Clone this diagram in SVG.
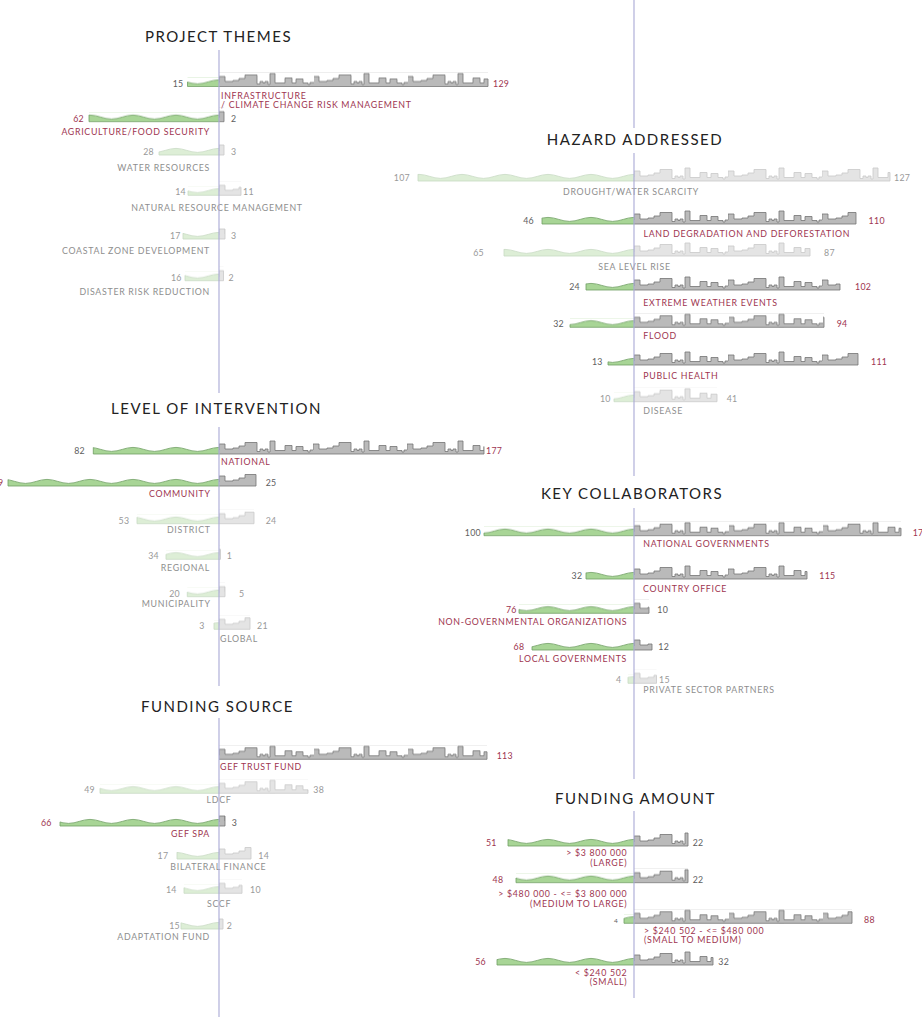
<svg xmlns="http://www.w3.org/2000/svg" width="922" height="1024" viewBox="0 0 922 1024">
<style>
text{font-family:Lato,"Open Sans","Liberation Sans",sans-serif}
.t{font-size:15px;letter-spacing:1.5px;fill:#222;text-anchor:middle}
.lb,.lg{font-size:8.8px;letter-spacing:.7px}
.lb{fill:#9e3550}
.lg{fill:#8e8e8e}
.n,.nr,.ng{font-size:8.8px;letter-spacing:.3px}
.n{fill:#5e5e5e}
.nr{fill:#9e3550}
.ng{fill:#999}
.e{text-anchor:end}
.m{text-anchor:middle}
.wv{fill:none;stroke:#6f9e62;stroke-width:.8}
.sk{fill:none;stroke:#737373;stroke-width:.8}
.fd{opacity:.38}
.ax{stroke:#a9a9d6;stroke-width:1.1;fill:none}
</style>
<defs>
<pattern id="sky" patternUnits="userSpaceOnUse" x="0" y="-14" width="94" height="14">
<g transform="translate(0,14)">
<path fill="#bababa" d="M0,0 V-10 H6 V-5 H14 V-6 H20 V-8 H26 V-11.5 H38 V-2.5 H41 V-5 H44 V-3.5 H46 V-5 H49 V-2 H51 V-13 H56 V-3.5 H66 V-8.5 H73 V-3.5 H77 V-7.5 H84 V-3.5 H89 V-2 H91 V-4 H94 V0 Z"/>
<path class="sk" d="M0,-4 V-10 H6 V-5 H14 V-6 H20 V-8 H26 V-11.5 H38 V-2.5 H41 V-5 H44 V-3.5 H46 V-5 H49 V-2 H51 V-13 H56 V-3.5 H66 V-8.5 H73 V-3.5 H77 V-7.5 H84 V-3.5 H89 V-2 H91 V-4 H94"/>
</g>
</pattern>
<pattern id="wave" patternUnits="userSpaceOnUse" x="0" y="-9" width="43" height="9">
<g transform="translate(0,9)">
<path fill="#a8d596" d="M0,0 V-6.6 C7.7,-6.6 13.8,-2.6 21.5,-2.6 C29.2,-2.6 35.3,-6.6 43,-6.6 V0 Z"/>
<path class="wv" d="M-1,-6.6 H0 C7.7,-6.6 13.8,-2.6 21.5,-2.6 C29.2,-2.6 35.3,-6.6 43,-6.6 H44"/>
</g>
</pattern>
</defs>

<g id="titles">
<text class="t" x="218.5" y="42">PROJECT THEMES</text>
<text class="t" x="635" y="145">HAZARD ADDRESSED</text>
<text class="t" x="216.5" y="413.5">LEVEL OF INTERVENTION</text>
<text class="t" x="632" y="498.5">KEY COLLABORATORS</text>
<text class="t" x="217.5" y="711.5">FUNDING SOURCE</text>
<text class="t" x="635.5" y="803.5">FUNDING AMOUNT</text>
</g>

<!-- PROJECT THEMES -->
<g id="pt-infrastructure" transform="translate(219,86.5)">
<g><rect x="-31.5" y="-9" width="31.5" height="9" fill="url(#wave)"/><path class="wv" d="M-31.5,-4.6 V0 H0"/>
<rect x="0" y="-14" width="269" height="14" fill="url(#sky)"/><path class="sk" d="M0,0 H269 V-7.5"/></g>
<text class="n e" x="-35.5">15</text><text class="nr" x="274">129</text>
<text class="lb" x="2" y="12.3">INFRASTRUCTURE</text>
<text class="lb" x="2" y="21.8">/ CLIMATE CHANGE RISK MANAGEMENT</text>
</g>
<g id="pt-agriculture" transform="translate(219,121.7)">
<g><rect x="-130" y="-9" width="130" height="9" fill="url(#wave)"/><path class="wv" d="M-130,-6.8 V0 H0"/>
<rect x="0" y="-14" width="5" height="14" fill="url(#sky)"/><path class="sk" d="M0,0 H5 V-10"/></g>
<text class="nr e" x="-135">62</text><text class="n" x="12">2</text>
<text class="lb e" x="-9" y="13.3">AGRICULTURE/FOOD SECURITY</text>
</g>
<g id="pt-water" transform="translate(219,155)">
<g class="fd"><rect x="-60" y="-9" width="60" height="9" fill="url(#wave)"/><path class="wv" d="M-60,-3.2 V0 H0"/>
<rect x="0" y="-14" width="5" height="14" fill="url(#sky)"/><path class="sk" d="M0,0 H5 V-10"/></g>
<text class="ng e" x="-65">28</text><text class="ng" x="12">3</text>
<text class="lg e" x="-9" y="16.3">WATER RESOURCES</text>
</g>
<g id="pt-natural" transform="translate(219,195.3)">
<g class="fd"><rect x="-31" y="-9" width="31" height="9" fill="url(#wave)"/><path class="wv" d="M-31,-4.4 V0 H0"/>
<rect x="0" y="-14" width="22" height="14" fill="url(#sky)"/><path class="sk" d="M0,0 H22 V-8"/></g>
<text class="ng e" x="-33">14</text><text class="ng" x="24">11</text>
<text class="lg m" x="-2" y="15.7">NATURAL RESOURCE MANAGEMENT</text>
</g>
<g id="pt-coastal" transform="translate(219,239)">
<g class="fd"><rect x="-36" y="-9" width="36" height="9" fill="url(#wave)"/><path class="wv" d="M-36,-5.8 V0 H0"/>
<rect x="0" y="-14" width="6" height="14" fill="url(#sky)"/><path class="sk" d="M0,0 H6 V-10"/></g>
<text class="ng e" x="-38.3">17</text><text class="ng" x="12">3</text>
<text class="lg e" x="-9" y="15">COASTAL ZONE DEVELOPMENT</text>
</g>
<g id="pt-disaster" transform="translate(219,280.7)">
<g class="fd"><rect x="-34" y="-9" width="34" height="9" fill="url(#wave)"/><path class="wv" d="M-34,-5.3 V0 H0"/>
<rect x="0" y="-14" width="4.5" height="14" fill="url(#sky)"/><path class="sk" d="M0,0 H4.5 V-10"/></g>
<text class="ng e" x="-37.3">16</text><text class="ng" x="9.5">2</text>
<text class="lg e" x="-9" y="14.8">DISASTER RISK REDUCTION</text>
</g>

<!-- HAZARD ADDRESSED -->
<g id="hz-drought" transform="translate(634,181)">
<g class="fd"><rect x="-216" y="-9" width="216" height="9" fill="url(#wave)"/><path class="wv" d="M-216,-6.8 V0 H0"/>
<rect x="0" y="-14" width="256" height="14" fill="url(#sky)"/><path class="sk" d="M0,0 H256 V-8.5"/></g>
<text class="ng e" x="-224">107</text><text class="ng" x="260">127</text>
<text class="lg m" x="-3" y="14">DROUGHT/WATER SCARCITY</text>
</g>
<g id="hz-land" transform="translate(634,224)">
<g><rect x="-92" y="-9" width="92" height="9" fill="url(#wave)"/><path class="wv" d="M-92,-6.1 V0 H0"/>
<rect x="0" y="-14" width="222" height="14" fill="url(#sky)"/><path class="sk" d="M0,0 H222 V-11.5"/></g>
<text class="n e" x="-100">46</text><text class="nr" x="234.6">110</text>
<text class="lb" x="9.5" y="13">LAND DEGRADATION AND DEFORESTATION</text>
</g>
<g id="hz-sea" transform="translate(634,256)">
<g class="fd"><rect x="-130" y="-9" width="130" height="9" fill="url(#wave)"/><path class="wv" d="M-130,-6.8 V0 H0"/>
<rect x="0" y="-14" width="176" height="14" fill="url(#sky)"/><path class="sk" d="M0,0 H176 V-7.5"/></g>
<text class="ng e" x="-150">65</text><text class="ng" x="190">87</text>
<text class="lg m" x="0.5" y="13.5">SEA LEVEL RISE</text>
</g>
<g id="hz-extreme" transform="translate(634,290)">
<g><rect x="-48" y="-9" width="48" height="9" fill="url(#wave)"/><path class="wv" d="M-48,-6.3 V0 H0"/>
<rect x="0" y="-14" width="206" height="14" fill="url(#sky)"/><path class="sk" d="M0,0 H206 V-6"/></g>
<text class="n e" x="-54">24</text><text class="nr" x="221">102</text>
<text class="lb" x="9.3" y="16">EXTREME WEATHER EVENTS</text>
</g>
<g id="hz-flood" transform="translate(634,327.3)">
<g><rect x="-64" y="-9" width="64" height="9" fill="url(#wave)"/><path class="wv" d="M-64,-2.8 V0 H0"/>
<rect x="0" y="-14" width="190" height="14" fill="url(#sky)"/><path class="sk" d="M0,0 H190 V-10"/></g>
<text class="n e" x="-70">32</text><text class="nr" x="202.7">94</text>
<text class="lb" x="9.3" y="12.2">FLOOD</text>
</g>
<g id="hz-health" transform="translate(634,365)">
<g><rect x="-26" y="-9" width="26" height="9" fill="url(#wave)"/><path class="wv" d="M-26,-3.2 V0 H0"/>
<rect x="0" y="-14" width="224" height="14" fill="url(#sky)"/><path class="sk" d="M0,0 H224 V-11.5"/></g>
<text class="n e" x="-31.3">13</text><text class="nr" x="237">111</text>
<text class="lb" x="9.3" y="13.5">PUBLIC HEALTH</text>
</g>
<g id="hz-disease" transform="translate(634,401.7)">
<g class="fd"><rect x="-20" y="-9" width="20" height="9" fill="url(#wave)"/><path class="wv" d="M-20,-2.9 V0 H0"/>
<rect x="0" y="-14" width="83" height="14" fill="url(#sky)"/><path class="sk" d="M0,0 H83 V-7.5"/></g>
<text class="ng e" x="-23.3">10</text><text class="ng" x="92.7">41</text>
<text class="lg" x="9.3" y="12.8">DISEASE</text>
</g>

<!-- LEVEL OF INTERVENTION -->
<g id="li-national" transform="translate(219,454)">
<g><rect x="-125.7" y="-9" width="125.7" height="9" fill="url(#wave)"/><path class="wv" d="M-125.7,-6.6 V0 H0"/>
<rect x="0" y="-14" width="265" height="14" fill="url(#sky)"/><path class="sk" d="M0,0 H265 V-7.5"/></g>
<text class="n e" x="-134">82</text><text class="nr" x="267">177</text>
<text class="lb" x="2" y="10.5">NATIONAL</text>
</g>
<g id="li-community" transform="translate(219,486)">
<g><rect x="-211" y="-9" width="211" height="9" fill="url(#wave)"/><path class="wv" d="M-211,-6.5 V0 H0"/>
<rect x="0" y="-14" width="37" height="14" fill="url(#sky)"/><path class="sk" d="M0,0 H37 V-11.5"/></g>
<text class="nr e" x="-215.5">9</text><text class="n" x="46.7">25</text>
<text class="lb e" x="-8.3" y="11">COMMUNITY</text>
</g>
<g id="li-district" transform="translate(219,523.7)">
<g class="fd"><rect x="-82" y="-9" width="82" height="9" fill="url(#wave)"/><path class="wv" d="M-82,-6.5 V0 H0"/>
<rect x="0" y="-14" width="35" height="14" fill="url(#sky)"/><path class="sk" d="M0,0 H35 V-11.5"/></g>
<text class="ng e" x="-89.7">53</text><text class="ng" x="46.7">24</text>
<text class="lg e" x="-8.3" y="9.5">DISTRICT</text>
</g>
<g id="li-regional" transform="translate(219,559.3)">
<g class="fd"><rect x="-53" y="-9" width="53" height="9" fill="url(#wave)"/><path class="wv" d="M-53,-5 V0 H0"/>
<rect x="0" y="-14" width="1.5" height="14" fill="url(#sky)"/><path class="sk" d="M0,0 H1.5 V-10"/></g>
<text class="ng e" x="-60">34</text><text class="ng" x="7.7">1</text>
<text class="lg e" x="-9" y="11.7">REGIONAL</text>
</g>
<g id="li-municipality" transform="translate(219,596.7)">
<g class="fd"><rect x="-31.7" y="-9" width="31.7" height="9" fill="url(#wave)"/><path class="wv" d="M-31.7,-4.6 V0 H0"/>
<rect x="0" y="-14" width="6" height="14" fill="url(#sky)"/><path class="sk" d="M0,0 H6 V-10"/></g>
<text class="ng e" x="-39">20</text><text class="ng" x="20">5</text>
<text class="lg e" x="-8.3" y="10.8">MUNICIPALITY</text>
</g>
<g id="li-global" transform="translate(219,629.3)">
<g class="fd"><rect x="-5" y="-9" width="5" height="9" fill="url(#wave)"/><path class="wv" d="M-5,-6.3 V0 H0"/>
<rect x="0" y="-14" width="31" height="14" fill="url(#sky)"/><path class="sk" d="M0,0 H31 V-11.5"/></g>
<text class="ng e" x="-14.3">3</text><text class="ng" x="38">21</text>
<text class="lg" x="1" y="12.7">GLOBAL</text>
</g>

<!-- KEY COLLABORATORS -->
<g id="kc-national" transform="translate(634,535.7)">
<g><rect x="-150" y="-9" width="150" height="9" fill="url(#wave)"/><path class="wv" d="M-150,-2.8 V0 H0"/>
<rect x="0" y="-14" width="267" height="14" fill="url(#sky)"/><path class="sk" d="M0,0 H267 V-7.5"/></g>
<text class="n e" x="-153">100</text><text class="nr" x="278.7">17</text>
<text class="lb" x="9.3" y="11.3">NATIONAL GOVERNMENTS</text>
</g>
<g id="kc-country" transform="translate(634,579)">
<g><rect x="-48" y="-9" width="48" height="9" fill="url(#wave)"/><path class="wv" d="M-48,-6.3 V0 H0"/>
<rect x="0" y="-14" width="173" height="14" fill="url(#sky)"/><path class="sk" d="M0,0 H173 V-7.5"/></g>
<text class="n e" x="-51.7">32</text><text class="nr" x="185.3">115</text>
<text class="lb" x="9" y="13">COUNTRY OFFICE</text>
</g>
<g id="kc-ngo" transform="translate(634,613.3)">
<g><rect x="-115" y="-9" width="115" height="9" fill="url(#wave)"/><path class="wv" d="M-115,-3.9 V0 H0"/>
<rect x="0" y="-14" width="15" height="14" fill="url(#sky)"/><path class="sk" d="M0,0 H15 V-6"/></g>
<text class="nr e" x="-117.3">76</text><text class="n" x="23.3">10</text>
<text class="lb e" x="-6.7" y="11.7">NON-GOVERNMENTAL ORGANIZATIONS</text>
</g>
<g id="kc-local" transform="translate(634,650)">
<g><rect x="-102" y="-9" width="102" height="9" fill="url(#wave)"/><path class="wv" d="M-102,-3.4 V0 H0"/>
<rect x="0" y="-14" width="18" height="14" fill="url(#sky)"/><path class="sk" d="M0,0 H18 V-6"/></g>
<text class="nr e" x="-109.7">68</text><text class="n" x="24.3">12</text>
<text class="lb e" x="-7" y="12">LOCAL GOVERNMENTS</text>
</g>
<g id="kc-private" transform="translate(634,683.3)">
<g class="fd"><rect x="-6" y="-9" width="6" height="9" fill="url(#wave)"/><path class="wv" d="M-6,-6.1 V0 H0"/>
<rect x="0" y="-14" width="22.5" height="14" fill="url(#sky)"/><path class="sk" d="M0,0 H22.5 V-8"/></g>
<text class="ng e" x="-12.7">4</text><text class="ng" x="25">15</text>
<text class="lg" x="9.3" y="10.2">PRIVATE SECTOR PARTNERS</text>
</g>

<!-- FUNDING SOURCE -->
<g id="fs-gef-trust" transform="translate(219,759.3)">
<g><rect x="0" y="-14" width="268" height="14" fill="url(#sky)"/><path class="sk" d="M0,0 H268 V-7.5"/></g>
<text class="nr" x="277.7">113</text>
<text class="lb" x="1" y="11.2">GEF TRUST FUND</text>
</g>
<g id="fs-ldcf" transform="translate(219,793.3)">
<g class="fd"><rect x="-119" y="-9" width="119" height="9" fill="url(#wave)"/><path class="wv" d="M-119,-5 V0 H0"/>
<rect x="0" y="-14" width="89" height="14" fill="url(#sky)"/><path class="sk" d="M0,0 H89 V-3.5"/></g>
<text class="ng e" x="-124">49</text><text class="ng" x="94.3">38</text>
<text class="lg m" x="0" y="10.2">LDCF</text>
</g>
<g id="fs-gef-spa" transform="translate(219,826)">
<g><rect x="-159" y="-9" width="159" height="9" fill="url(#wave)"/><path class="wv" d="M-159,-4.1 V0 H0"/>
<rect x="0" y="-14" width="6" height="14" fill="url(#sky)"/><path class="sk" d="M0,0 H6 V-10"/></g>
<text class="nr e" x="-167.3">66</text><text class="n" x="12.7">3</text>
<text class="lb e" x="-9" y="11">GEF SPA</text>
</g>
<g id="fs-bilateral" transform="translate(219,859)">
<g class="fd"><rect x="-42" y="-9" width="42" height="9" fill="url(#wave)"/><path class="wv" d="M-42,-6.8 V0 H0"/>
<rect x="0" y="-14" width="32" height="14" fill="url(#sky)"/><path class="sk" d="M0,0 H32 V-11.5"/></g>
<text class="ng e" x="-50.7">17</text><text class="ng" x="39.3">14</text>
<text class="lg m" x="-0.7" y="11">BILATERAL FINANCE</text>
</g>
<g id="fs-sccf" transform="translate(219,893.3)">
<g class="fd"><rect x="-35" y="-9" width="35" height="9" fill="url(#wave)"/><path class="wv" d="M-35,-5.6 V0 H0"/>
<rect x="0" y="-14" width="23" height="14" fill="url(#sky)"/><path class="sk" d="M0,0 H23 V-8"/></g>
<text class="ng e" x="-42.3">14</text><text class="ng" x="31">10</text>
<text class="lg m" x="0" y="13.7">SCCF</text>
</g>
<g id="fs-adaptation" transform="translate(219,929)">
<g class="fd"><rect x="-38" y="-9" width="38" height="9" fill="url(#wave)"/><path class="wv" d="M-38,-6.3 V0 H0"/>
<rect x="0" y="-14" width="4" height="14" fill="url(#sky)"/><path class="sk" d="M0,0 H4 V-10"/></g>
<text class="ng e" x="-39">15</text><text class="ng" x="7.7">2</text>
<text class="lg e" x="-9" y="11">ADAPTATION FUND</text>
</g>

<!-- FUNDING AMOUNT -->
<g id="fa-large" transform="translate(634,846)">
<g><rect x="-126" y="-9" width="126" height="9" fill="url(#wave)"/><path class="wv" d="M-126,-6.6 V0 H0"/>
<rect x="0" y="-14" width="54" height="14" fill="url(#sky)"/><path class="sk" d="M0,0 H54 V-13"/></g>
<text class="nr e" x="-137.3">51</text><text class="n" x="58.7">22</text>
<text class="lb e" x="-6.7" y="10">&gt; $3 800 000</text>
<text class="lb e" x="-6.7" y="20">(LARGE)</text>
</g>
<g id="fa-medium-large" transform="translate(634,882.7)">
<g><rect x="-118" y="-9" width="118" height="9" fill="url(#wave)"/><path class="wv" d="M-118,-4.7 V0 H0"/>
<rect x="0" y="-14" width="54" height="14" fill="url(#sky)"/><path class="sk" d="M0,0 H54 V-13"/></g>
<text class="nr e" x="-130.7">48</text><text class="n" x="58.7">22</text>
<text class="lb e" x="-6.7" y="14.3">&gt; $480 000 - &lt;= $3 800 000</text>
<text class="lb e" x="-6.7" y="24.8">(MEDIUM TO LARGE)</text>
</g>
<g id="fa-small-medium" transform="translate(634,923.3)">
<g><rect x="-10" y="-9" width="10" height="9" fill="url(#wave)"/><path class="wv" d="M-10,-5 V0 H0"/>
<rect x="0" y="-14" width="218" height="14" fill="url(#sky)"/><path class="sk" d="M0,0 H218 V-11.5"/></g>
<text class="n e" x="-16" style="font-size:6.5px">4</text><text class="nr" x="230">88</text>
<text class="lb" x="10" y="10.7">&gt; $240 502 - &lt;= $480 000</text>
<text class="lb" x="10" y="19.7">(SMALL TO MEDIUM)</text>
</g>
<g id="fa-small" transform="translate(634,965)">
<g><rect x="-137" y="-9" width="137" height="9" fill="url(#wave)"/><path class="wv" d="M-137,-5.6 V0 H0"/>
<rect x="0" y="-14" width="79" height="14" fill="url(#sky)"/><path class="sk" d="M0,0 H79 V-7.5"/></g>
<text class="nr e" x="-148">56</text><text class="n" x="84.3">32</text>
<text class="lb e" x="-6.7" y="11">&lt; $240 502</text>
<text class="lb e" x="-6.7" y="20">(SMALL)</text>
</g>

<g id="axes">
<path class="ax" d="M219,50 V393 M219,427 V686 M219,718 V1017 M634,0 V128 M634,153 V476 M634,508 V779 M634,811 V998"/>
</g>
</svg>
